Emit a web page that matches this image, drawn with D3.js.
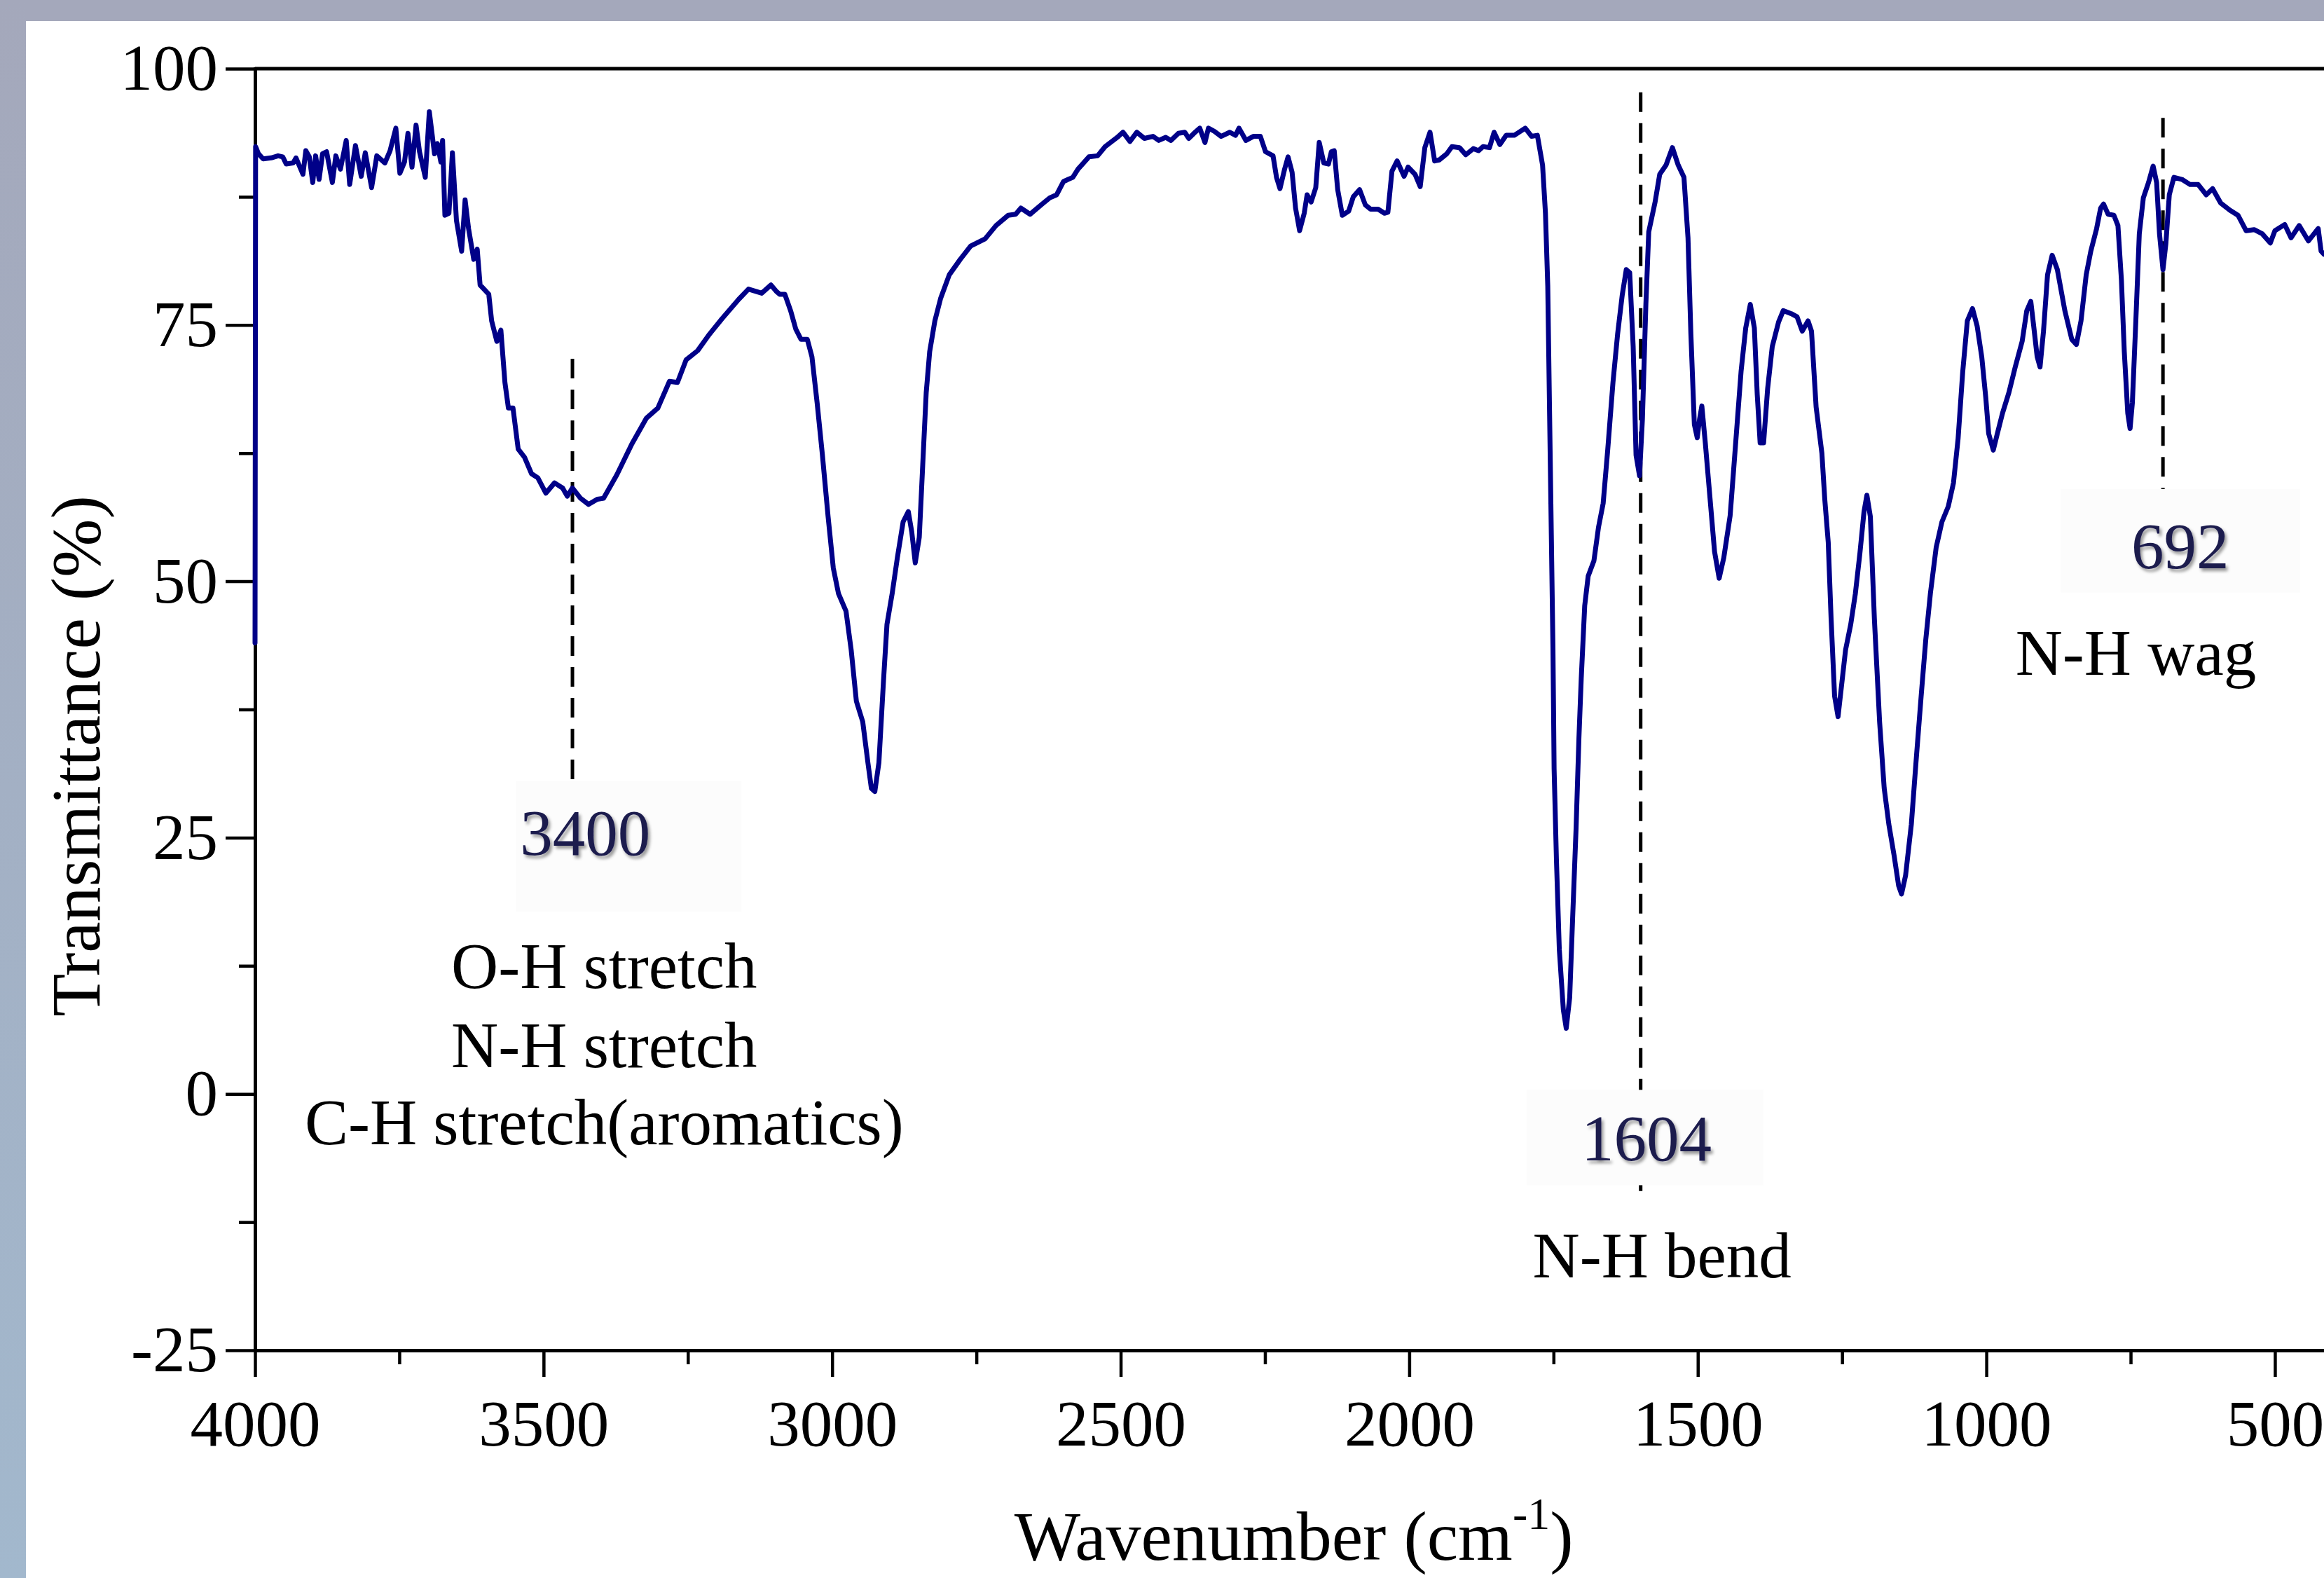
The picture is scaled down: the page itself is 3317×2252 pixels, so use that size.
<!DOCTYPE html>
<html><head><meta charset="utf-8">
<script src="https://cdn.jsdelivr.net/npm/d3@7"></script>
<style>html,body{margin:0;padding:0;background:#fff;overflow:hidden}</style>
</head><body>
<svg id="chart" width="3317" height="2252"></svg>
<script>
// ---- data ----
const wavenumber = [
4000,3999,3994,3986,3972,3960,3952,3946,3934,3929,3917,3912,3906,3900,3895,3889,3883,3876,3866,3860,3852,3842,3836,3826,3816,3809,3798,3789,3775,3766,3756,3749,3741,3735,3728,3721,3715,3705,3698,3689,3684,3678,3675,3671,3664,3658,3651,3642,3636,3630,3621,3615,3610,3595,3590,3581,3574,3567,3561,3553,3544,3533,3521,3510,3496,3481,3467,3459,3450,3436,3422,3407,3396,3373,3347,3322,3302,3282,3268,3253,3233,3214,3191,3162,3145,3122,3106,
3097,3091,3082,3072,3063,3054,3043,3035,3026,3017,3007,2998,2989,2976,2967,2958,2947,2938,2932,2926,2919,2911,2905,2896,2887,2877,2868,2862,2856,2849,2843,2837,2831,2822,2812,2797,2778,2760,2735,2716,2695,2682,2673,2657,2636,2623,2611,2599,2583,2574,2555,2540,2527,2506,2496,2484,2472,2459,2444,2434,2422,2413,2400,2389,2382,2373,2363,2354,2348,2338,2326,2311,2301,2295,2283,2270,2258,2249,2236,2230,2224,2216,2210,2203,2197,2190,2182,2177,2170,2162,2156,2148,2140,2135,
2130,2124,2116,2105,2097,2086,2076,2067,2054,2043,2037,2030,2021,2009,2002,1990,1981,1973,1964,1956,1948,1935,1926,1913,1902,1889,1880,1872,1861,1853,1843,1832,1818,1799,1788,1778,1769,1764,1760,1757,1754,1751,1749,1745,1740,1733,1728,1722,1717,1711,1706,1702,1696,1690,1680,1672,1664,1656,1647,1639,1631,1624,1618,1612,1607,1601,1596,1590,1585,1574,1566,1555,1544,1534,1524,1517,1512,1506,1501,1497,1493,1487,1479,1471,1463,1455,1444,1436,1425,1417,1409,1402,1397,1392,1386,1379,1371,1360,1352,1338,1328,1319,1309,1303,1295,1285,1280,
1274,1269,1263,1257,1251,1244,1235,1227,1219,1212,1207,1201,1194,1185,1177,1169,1160,1152,1147,1140,1130,1122,1113,1105,1097,1087,1077,1066,1057,1049,1041,1033,1024,1016,1008,1001,996,988,981,972,961,950,938,930,923,918,912,907,901,894,886,877,864,852,844,836,827,819,809,802,797,789,779,772,766,761,755,751,747,741,735,728,719,711,705,700,694,689,683,675,661,647,633,619,608,594,578,564,550,536,522,508,500,483,472,458,442,425,420,415,400
];
const transmittance = [
44.0,92.4,91.7,91.2,91.3,91.5,91.4,90.7,90.8,91.3,89.7,92.0,91.4,88.9,91.5,89.2,91.7,91.9,88.9,91.5,90.2,93.0,88.7,92.5,89.5,91.8,88.4,91.5,90.8,92.0,94.2,89.8,90.9,93.7,90.4,94.5,91.9,89.4,95.8,91.7,92.7,90.9,93.0,85.7,85.9,91.8,85.2,82.2,87.2,84.4,81.4,82.4,78.9,78.0,75.4,73.4,74.5,69.4,66.9,66.9,62.9,62.1,60.5,60.1,58.6,59.6,59.1,58.3,59.1,58.1,57.5,58.0,58.1,60.4,63.4,65.9,66.9,69.5,69.4,71.6,72.5,74.0,75.6,77.5,78.5,78.1,78.9,
78.3,78.0,78.0,76.4,74.6,73.6,73.6,71.9,67.4,62.4,56.3,51.3,48.8,47.1,43.3,38.3,36.3,32.3,29.8,29.5,32.3,40.3,45.8,48.8,52.3,55.8,56.8,54.8,51.8,54.3,61.4,68.4,72.4,75.4,77.6,79.9,81.4,82.7,83.4,84.7,85.7,85.8,86.4,85.8,86.8,87.4,87.7,89.0,89.4,90.2,91.4,91.5,92.4,93.3,93.8,92.9,93.8,93.2,93.4,93.0,93.3,93.0,93.7,93.8,93.2,93.7,94.2,92.8,94.2,93.9,93.4,93.8,93.5,94.2,93.0,93.4,93.4,91.9,91.5,89.4,88.3,90.2,91.4,89.9,86.4,84.2,85.9,87.7,87.0,88.4,92.8,90.8,90.7,91.9,
92.0,88.2,85.7,86.1,87.5,88.2,86.7,86.3,86.3,85.9,86.0,90.0,91.0,89.5,90.4,89.7,88.5,92.3,93.8,91.0,91.1,91.7,92.4,92.3,91.6,92.2,92.0,92.4,92.3,93.8,92.6,93.5,93.5,94.2,93.4,93.5,90.6,85.9,78.8,67.0,55.2,43.5,31.7,22.9,14.1,8.2,6.4,9.4,17.0,25.8,34.7,40.5,47.6,50.5,52.0,55.3,57.6,62.9,69.4,74.1,77.9,80.4,80.1,72.9,62.3,60.3,65.8,77.0,84.1,87.0,89.7,90.6,92.3,90.6,89.4,83.5,74.1,65.3,64.0,65.8,67.1,63.5,58.2,52.9,50.3,52.3,56.4,62.3,70.5,74.7,77.0,74.7,68.2,63.5,63.5,68.8,72.9,75.3,76.4,76.1,75.8,74.4,75.4,74.4,67.0,62.5,58.0,
53.8,46.3,38.8,36.8,39.8,43.3,45.8,48.8,52.8,56.8,58.4,56.3,46.3,36.3,29.8,26.3,23.3,20.3,19.5,21.3,26.3,32.3,38.8,44.3,48.8,53.3,55.8,57.3,59.6,63.9,70.4,75.4,76.6,74.9,71.9,67.9,64.4,62.8,64.4,66.4,68.4,70.9,73.4,76.4,77.3,74.9,71.9,70.9,74.4,79.9,81.8,80.4,76.4,73.6,73.1,75.4,79.9,82.2,84.4,86.4,86.8,85.8,85.7,84.7,79.4,72.4,66.4,64.9,67.4,75.4,83.9,87.4,88.9,90.5,88.9,83.9,80.4,82.9,87.7,89.4,89.2,88.7,88.7,87.7,88.3,86.9,86.2,85.7,84.2,84.3,83.9,83.0,84.2,84.8,83.5,84.7,83.2,84.4,82.2,81.9,82.5
];
const xDomain = [4000, 400];
const yDomain = [-25, 100];
const xMajorTicks = [4000, 3500, 3000, 2500, 2000, 1500, 1000, 500];
const xMinorTicks = [3750, 3250, 2750, 2250, 1750, 1250, 750];
const yMajorTicks = [-25, 0, 25, 50, 75, 100];
const yMinorTicks = [-12.5, 12.5, 37.5, 62.5, 87.5];
const xTitle = "Wavenumber (cm";
const xTitleSup = "-1";
const yTitle = "Transmittance (%)";

// marked peaks: dashed guide lines, label boxes and labels
const peakLineX = [3450, 1599, 694];
const peakLineTop = [71.7, 97.7, 95.2];
const peakLineBottom = [30.3, -9.7, 58.1];
const peakLabels = ["3400", "1604", "692"];
const peakLabelX = [3428, 1589, 664];
const peakLabelY = [23.3, -6.5, 51.3];
const peakBoxX0 = [3548, 1797, 871];
const peakBoxX1 = [3157, 1386, 456];
const peakBoxY0 = [30.5, 0.4, 59.0];
const peakBoxY1 = [17.8, -8.9, 48.9];

// band assignments
const bandText = ["O-H stretch", "N-H stretch", "C-H stretch(aromatics)", "N-H bend", "N-H wag"];
const bandX = [3395, 3395, 3395, 1562, 741];
const bandY = [10.3, 2.6, -4.9, -17.9, 40.9];

// ---- drawing ----
const W = 3317, H = 2252;
const svg = d3.select("#chart");
const FONT = "'Liberation Serif','Times New Roman',Times,serif";

const defs = svg.append("defs");
const grad = defs.append("linearGradient").attr("id", "leftBorder").attr("x1", 0).attr("y1", 0).attr("x2", 0).attr("y2", 1);
grad.append("stop").attr("offset", "0%").attr("stop-color", "#a4a8bb");
grad.append("stop").attr("offset", "100%").attr("stop-color", "#a2b8cd");
const flt = defs.append("filter").attr("id", "shadow").attr("x", "-20%").attr("y", "-30%").attr("width", "150%").attr("height", "170%");
flt.append("feDropShadow").attr("dx", 3).attr("dy", 4).attr("stdDeviation", 2.2)
   .attr("flood-color", "#000").attr("flood-opacity", 0.4);

svg.append("rect").attr("x", 0).attr("y", 0).attr("width", W).attr("height", H).attr("fill", "#ffffff");
svg.append("rect").attr("x", 0).attr("y", 0).attr("width", W).attr("height", 30).attr("fill", "#a4a8bb");
svg.append("rect").attr("x", 0).attr("y", 0).attr("width", 37).attr("height", H).attr("fill", "url(#leftBorder)");

const x = d3.scaleLinear().domain(xDomain).range([364, 364 + 3600 * 0.8237]);
const y = d3.scaleLinear().domain(yDomain).range([1927, 98]);

// dashed peak guide lines
svg.append("g").selectAll("line").data(peakLineX).join("line")
  .attr("x1", d => x(d)).attr("x2", d => x(d))
  .attr("y1", (d, i) => y(peakLineTop[i])).attr("y2", (d, i) => y(peakLineBottom[i]))
  .attr("stroke", "#000").attr("stroke-width", 5).attr("stroke-dasharray", "28,16");

// label boxes (very faint)
svg.append("g").selectAll("rect").data(peakBoxX0).join("rect")
  .attr("x", d => x(d)).attr("y", (d, i) => y(peakBoxY0[i]))
  .attr("width", (d, i) => x(peakBoxX1[i]) - x(d))
  .attr("height", (d, i) => y(peakBoxY1[i]) - y(peakBoxY0[i]))
  .attr("fill", "#fcfcfc");

// axes
const fmt = d => String(d);
const gx = svg.append("g").attr("transform", `translate(0,${y(-25)})`);
gx.call(d3.axisBottom(x).tickValues(xMajorTicks).tickSize(38).tickSizeOuter(0).tickPadding(32).tickFormat(fmt));
const gxm = svg.append("g").attr("transform", `translate(0,${y(-25)})`);
gxm.call(d3.axisBottom(x).tickValues(xMinorTicks).tickSize(20).tickSizeOuter(0).tickFormat(""));
gxm.select(".domain").remove();

const gy = svg.append("g").attr("transform", `translate(${x(4000)},0)`);
gy.call(d3.axisLeft(y).tickValues(yMajorTicks).tickSize(42).tickSizeOuter(0).tickPadding(11).tickFormat(fmt));
const gym = svg.append("g").attr("transform", `translate(${x(4000)},0)`);
gym.call(d3.axisLeft(y).tickValues(yMinorTicks).tickSize(23).tickSizeOuter(0).tickFormat(""));
gym.select(".domain").remove();

[gx, gxm, gy, gym].forEach(g => {
  g.attr("font-family", FONT).attr("font-size", 93);
  g.selectAll(".domain").attr("stroke", "#000").attr("stroke-width", 5).attr("stroke-linecap", "square");
  g.selectAll(".tick line").attr("stroke", "#000").attr("stroke-width", 4.5);
  g.selectAll(".tick text").attr("fill", "#000");
});

// top frame line
svg.append("line").attr("x1", x(4000)).attr("x2", x(400)).attr("y1", y(100)).attr("y2", y(100))
  .attr("stroke", "#000").attr("stroke-width", 5);

// spectrum
const line = d3.line().x(i => x(wavenumber[i])).y(i => y(transmittance[i]));
svg.append("path").datum(d3.range(wavenumber.length)).attr("d", line)
  .attr("fill", "none").attr("stroke", "#000088").attr("stroke-width", 7)
  .attr("stroke-linejoin", "round").attr("stroke-linecap", "round");

// peak labels
svg.append("g").selectAll("text").data(peakLabels).join("text")
  .attr("x", (d, i) => x(peakLabelX[i])).attr("y", (d, i) => y(peakLabelY[i]))
  .attr("text-anchor", "middle").attr("font-family", FONT).attr("font-size", 93)
  .attr("fill", "#1b1b4e").attr("filter", "url(#shadow)").text(d => d);

// band assignments
svg.append("g").selectAll("text").data(bandText).join("text")
  .attr("x", (d, i) => x(bandX[i])).attr("y", (d, i) => y(bandY[i]))
  .attr("text-anchor", "middle").attr("font-family", FONT).attr("font-size", 93)
  .attr("fill", "#000").text(d => d);

// axis titles
const xt = svg.append("text").attr("x", (x(4000) + x(400)) / 2).attr("y", 2226)
  .attr("text-anchor", "middle").attr("font-family", FONT).attr("font-size", 100).attr("fill", "#000");
xt.append("tspan").text(xTitle);
xt.append("tspan").attr("font-size", 64).attr("dy", -44).text(xTitleSup);
xt.append("tspan").attr("dy", 44).text(")");

svg.append("text").attr("transform", "translate(142,1079) rotate(-90)")
  .attr("text-anchor", "middle").attr("font-family", FONT).attr("font-size", 100).attr("fill", "#000")
  .text(yTitle);
</script>
</body></html>
